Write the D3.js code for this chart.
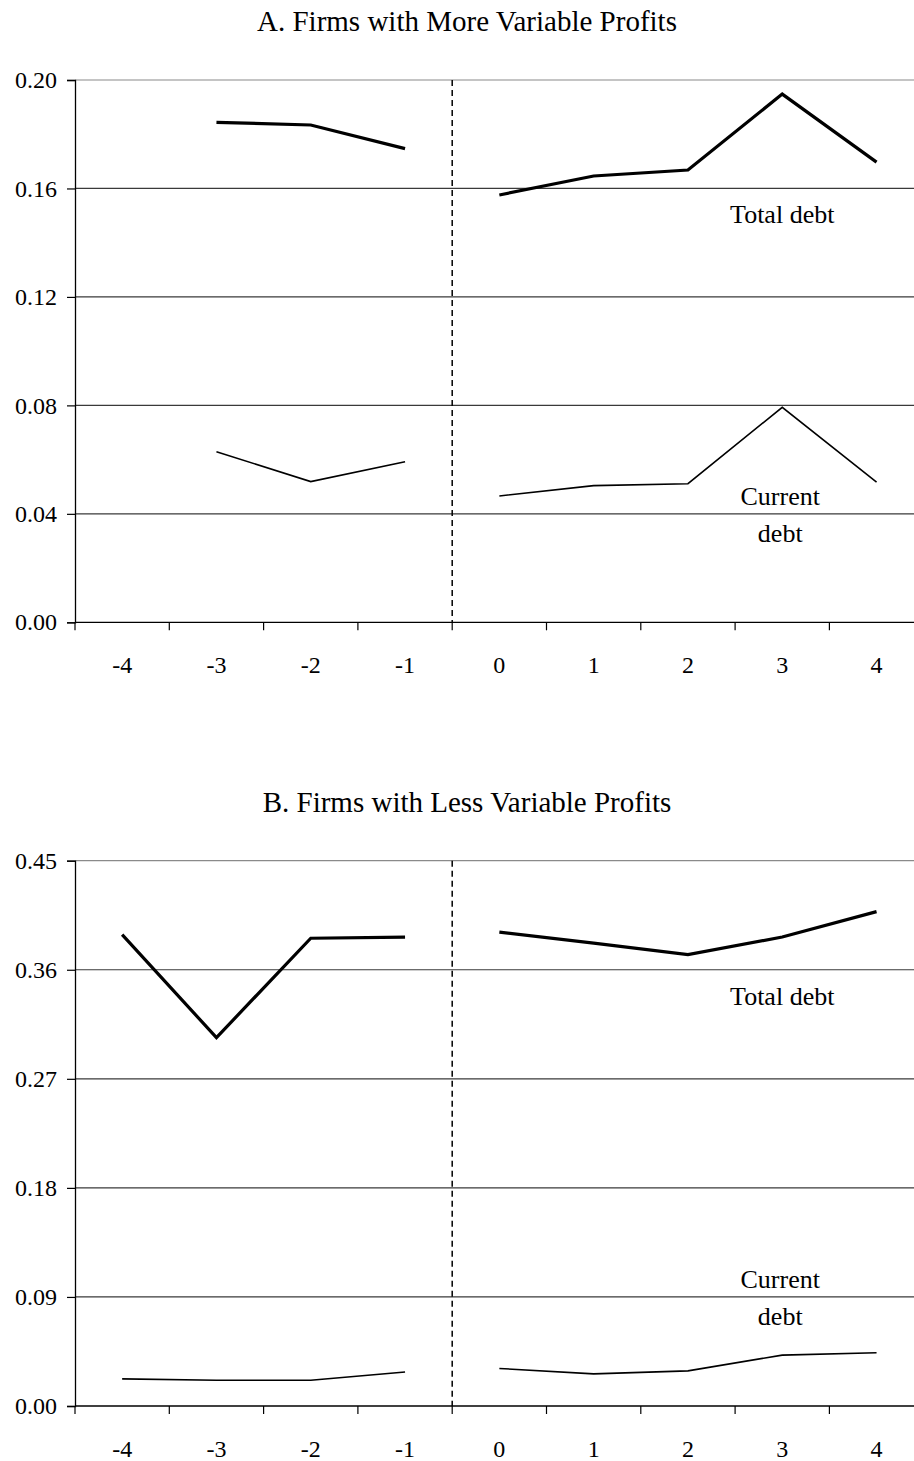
<!DOCTYPE html>
<html>
<head>
<meta charset="utf-8">
<script src="https://cdn.jsdelivr.net/npm/d3@7"></script>
<style>
  body { margin: 0; background: #fff; }
  svg text { font-family: "Liberation Serif", "DejaVu Serif", serif; fill: #000; }
</style>
</head>
<body>
<svg id="chart"></svg>
<script>
const svg_w = 914;
const svg_h = 1461;

// categorías del eje x (años relativos al evento)
const years = [-4, -3, -2, -1, 0, 1, 2, 3, 4];

// Panel A: empresas con beneficios más variables
const a_total = [null, 0.1844, 0.1834, 0.1747, 0.1576, 0.1646, 0.1668, 0.1948, 0.1697];
const a_current = [null, 0.0629, 0.0519, 0.0592, 0.0466, 0.0504, 0.0511, 0.0793, 0.0517];
const a_ticks = [0.00, 0.04, 0.08, 0.12, 0.16, 0.20];

// Panel B: empresas con beneficios menos variables
const b_total = [0.389, 0.304, 0.386, 0.387, 0.391, 0.382, 0.3725, 0.387, 0.408];
const b_current = [0.0224, 0.0213, 0.0213, 0.028, 0.031, 0.0265, 0.029, 0.042, 0.044];
const b_ticks = [0.00, 0.09, 0.18, 0.27, 0.36, 0.45];

const font = "'Liberation Serif', 'DejaVu Serif', serif";

const svg = d3.select("#chart")
  .attr("width", svg_w)
  .attr("height", svg_h)
  .attr("font-family", font);

const x_left = 75;
const band = 94.3;

function panel(cfg) {
  const g = svg.append("g");

  const x_scale = d3.scaleBand()
    .domain(years)
    .range([x_left, x_left + band * years.length])
    .padding(0);

  const y_scale = d3.scaleLinear()
    .domain([0, d3.max(cfg.ticks)])
    .range([cfg.bottom, cfg.top]);

  // título
  g.append("text")
    .attr("x", 467)
    .attr("y", cfg.top - 49)
    .attr("text-anchor", "middle")
    .style("font-size", "29px")
    .text(cfg.title);

  // líneas de la cuadrícula
  g.append("g")
    .selectAll("line")
    .data(cfg.ticks.filter(d => d > 0))
    .enter()
    .append("line")
    .attr("x1", x_left)
    .attr("x2", svg_w)
    .attr("y1", d => y_scale(d))
    .attr("y2", d => y_scale(d))
    .attr("stroke", (d, i, n) => i === n.length - 1 ? "#8a8a8a" : "#3a3a3a")
    .attr("stroke-width", 1.2);

  // eje y
  const y_axis = g.append("g")
    .attr("transform", `translate(${x_left},0)`)
    .call(d3.axisLeft(y_scale).tickValues(cfg.ticks).tickFormat(d3.format(".2f")).tickSize(8).tickPadding(10));
  y_axis.attr("font-family", font);
  y_axis.select(".domain").attr("stroke", "#000").attr("stroke-width", 1.3);
  y_axis.selectAll(".tick line").attr("stroke", "#000").attr("stroke-width", 1.2);
  y_axis.selectAll("text").style("font-size", "24px").attr("fill", "#000");

  // eje x: marcas entre categorías
  const x_axis = g.append("g")
    .attr("transform", `translate(0,${cfg.bottom})`);
  x_axis.append("line")
    .attr("x1", x_left).attr("x2", svg_w)
    .attr("stroke", "#000").attr("stroke-width", 1.3);
  x_axis.selectAll("line.tk")
    .data(years)
    .enter()
    .append("line")
    .attr("class", "tk")
    .attr("x1", d => x_scale(d))
    .attr("x2", d => x_scale(d))
    .attr("y1", 0).attr("y2", 8)
    .attr("stroke", "#000").attr("stroke-width", 1.2);
  x_axis.selectAll("text")
    .data(years)
    .enter()
    .append("text")
    .attr("x", d => x_scale(d) + x_scale.bandwidth() / 2)
    .attr("y", 51)
    .attr("text-anchor", "middle")
    .style("font-size", "24px")
    .text(d => d);

  // línea discontinua del evento
  const x_event = x_scale(0);
  g.append("line")
    .attr("x1", x_event).attr("x2", x_event)
    .attr("y1", cfg.top).attr("y2", cfg.bottom)
    .attr("stroke", "#000")
    .attr("stroke-width", 1.5)
    .attr("stroke-dasharray", "6,4");

  // series: antes y después del evento se dibujan por separado
  const line = d3.line()
    .defined(d => d.v !== null)
    .x(d => x_scale(d.year) + x_scale.bandwidth() / 2)
    .y(d => y_scale(d.v));

  function draw(values, width) {
    const pts = years.map((y, i) => ({year: y, v: values[i]}));
    [pts.filter(d => d.year < 0), pts.filter(d => d.year >= 0)].forEach(seg => {
      g.append("path")
        .datum(seg)
        .attr("d", line)
        .attr("fill", "none")
        .attr("stroke", "#000")
        .attr("stroke-width", width)
        .attr("stroke-linejoin", "miter");
    });
  }
  draw(cfg.total, 3.2);
  draw(cfg.current, 1.6);

  // etiquetas de las series
  const lx = x_scale(3) + x_scale.bandwidth() / 2;
  g.append("text")
    .attr("x", lx).attr("y", y_scale(cfg.ticks[4]) + 35)
    .attr("text-anchor", "middle")
    .style("font-size", "26px")
    .text("Total debt");
  g.append("text")
    .attr("x", lx - 2).attr("y", y_scale(cfg.ticks[1]) - 9)
    .attr("text-anchor", "middle")
    .style("font-size", "26px")
    .text("Current");
  g.append("text")
    .attr("x", lx - 2).attr("y", y_scale(cfg.ticks[1]) + 28)
    .attr("text-anchor", "middle")
    .style("font-size", "26px")
    .text("debt");
}

panel({
  title: "A. Firms with More Variable Profits",
  top: 80, bottom: 622.3,
  ticks: a_ticks, total: a_total, current: a_current
});

panel({
  title: "B. Firms with Less Variable Profits",
  top: 860.7, bottom: 1406,
  ticks: b_ticks, total: b_total, current: b_current
});
</script>
</body>
</html>
